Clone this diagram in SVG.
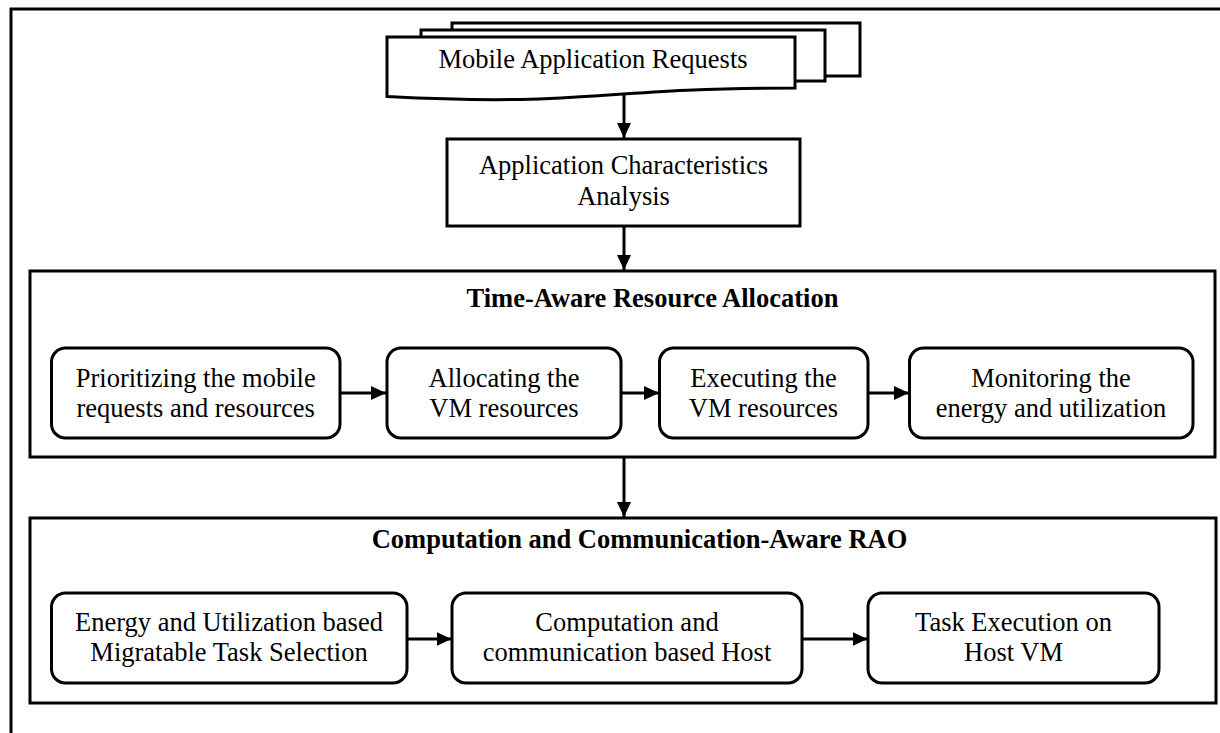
<svg xmlns="http://www.w3.org/2000/svg" width="1220" height="733" viewBox="0 0 1220 733">
  <defs>
    <style>
      .frame { fill: none; stroke: #000; stroke-width: 3; }
      .box { fill: #fff; stroke: #000; stroke-width: 3; }
      .rbox { fill: #fff; stroke: #000; stroke-width: 3; }
      .doc { fill: #fff; stroke: #000; stroke-width: 3; stroke-linejoin: miter; }
      .conn { fill: none; stroke: #000; stroke-width: 3; }
      text { font-family: "Liberation Serif", "Times New Roman", serif; font-size: 26.5px; fill: #000; text-anchor: middle; }
      .title { font-weight: bold; text-anchor: start; }
    </style>
    <marker id="arr" viewBox="0 0 15 14" refX="15" refY="7" markerWidth="15" markerHeight="14" markerUnits="userSpaceOnUse" orient="auto">
      <path d="M0,0 L15,7 L0,14 Z" fill="#000"/>
    </marker>
  </defs>

  <rect width="1220" height="733" fill="#fff"/>

  <!-- outer frame (top and left edges only) -->
  <path class="frame" d="M11,733 V9 H1220"/>

  <!-- Mobile Application Requests (stacked documents) -->
  <g id="mobile-requests">
    <rect class="doc" x="452" y="23" width="408" height="53"/>
    <rect class="doc" x="421" y="30" width="404" height="51"/>
    <path class="doc" d="M387,37 H795 V88 C591,88 591,107 387,96.5 Z"/>
    <text x="593" y="68">Mobile Application Requests</text>
  </g>

  <!-- Application Characteristics Analysis -->
  <g id="app-analysis">
    <rect class="box" x="447" y="139" width="353" height="87"/>
    <text x="623.5" y="174">Application Characteristics</text>
    <text x="623.5" y="205">Analysis</text>
  </g>

  <!-- Time-Aware Resource Allocation -->
  <g id="time-aware">
    <rect class="box" x="30" y="271" width="1185" height="186"/>
    <text class="title" x="466.5" y="307">Time-Aware Resource Allocation</text>
  </g>
  <g id="prioritizing">
    <rect class="rbox" x="51.5" y="348" width="288.5" height="90" rx="14" ry="14"/>
    <text x="195.7" y="387">Prioritizing the mobile</text>
    <text x="195.7" y="417">requests and resources</text>
  </g>
  <g id="allocating">
    <rect class="rbox" x="387" y="348" width="234" height="90" rx="14" ry="14"/>
    <text x="504" y="387">Allocating the</text>
    <text x="504" y="417">VM resources</text>
  </g>
  <g id="executing">
    <rect class="rbox" x="659.5" y="348" width="208.5" height="90" rx="14" ry="14"/>
    <text x="763.5" y="387">Executing the</text>
    <text x="763.5" y="417">VM resources</text>
  </g>
  <g id="monitoring">
    <rect class="rbox" x="909.5" y="348" width="283.5" height="90" rx="14" ry="14"/>
    <text x="1051" y="387">Monitoring the</text>
    <text x="1051" y="417">energy and utilization</text>
  </g>

  <!-- Computation and Communication-Aware RAO -->
  <g id="comp-comm">
    <rect class="box" x="30" y="518" width="1186" height="185"/>
    <text class="title" x="371.7" y="548">Computation and Communication-Aware RAO</text>
  </g>
  <g id="migratable">
    <rect class="rbox" x="51.5" y="593" width="355.5" height="90" rx="14" ry="14"/>
    <text x="229" y="631">Energy and Utilization based</text>
    <text x="229" y="661">Migratable Task Selection</text>
  </g>
  <g id="host-selection">
    <rect class="rbox" x="452" y="593" width="350" height="90" rx="14" ry="14"/>
    <text x="627" y="631">Computation and</text>
    <text x="627" y="661">communication based Host</text>
  </g>
  <g id="task-execution">
    <rect class="rbox" x="868" y="593" width="291" height="90" rx="14" ry="14"/>
    <text x="1013.5" y="631">Task Execution on</text>
    <text x="1013.5" y="661">Host VM</text>
  </g>

  <!-- connectors -->
  <g id="connectors">
    <line class="conn" x1="624" y1="95" x2="624" y2="138" marker-end="url(#arr)"/>
    <line class="conn" x1="624" y1="226" x2="624" y2="270" marker-end="url(#arr)"/>
    <line class="conn" x1="624" y1="457" x2="624" y2="517" marker-end="url(#arr)"/>
    <line class="conn" x1="340" y1="393" x2="386" y2="393" marker-end="url(#arr)"/>
    <line class="conn" x1="621" y1="393" x2="659" y2="393" marker-end="url(#arr)"/>
    <line class="conn" x1="868" y1="393" x2="909" y2="393" marker-end="url(#arr)"/>
    <line class="conn" x1="407" y1="639" x2="451.5" y2="639" marker-end="url(#arr)"/>
    <line class="conn" x1="802" y1="639" x2="867.5" y2="639" marker-end="url(#arr)"/>
  </g>
</svg>
